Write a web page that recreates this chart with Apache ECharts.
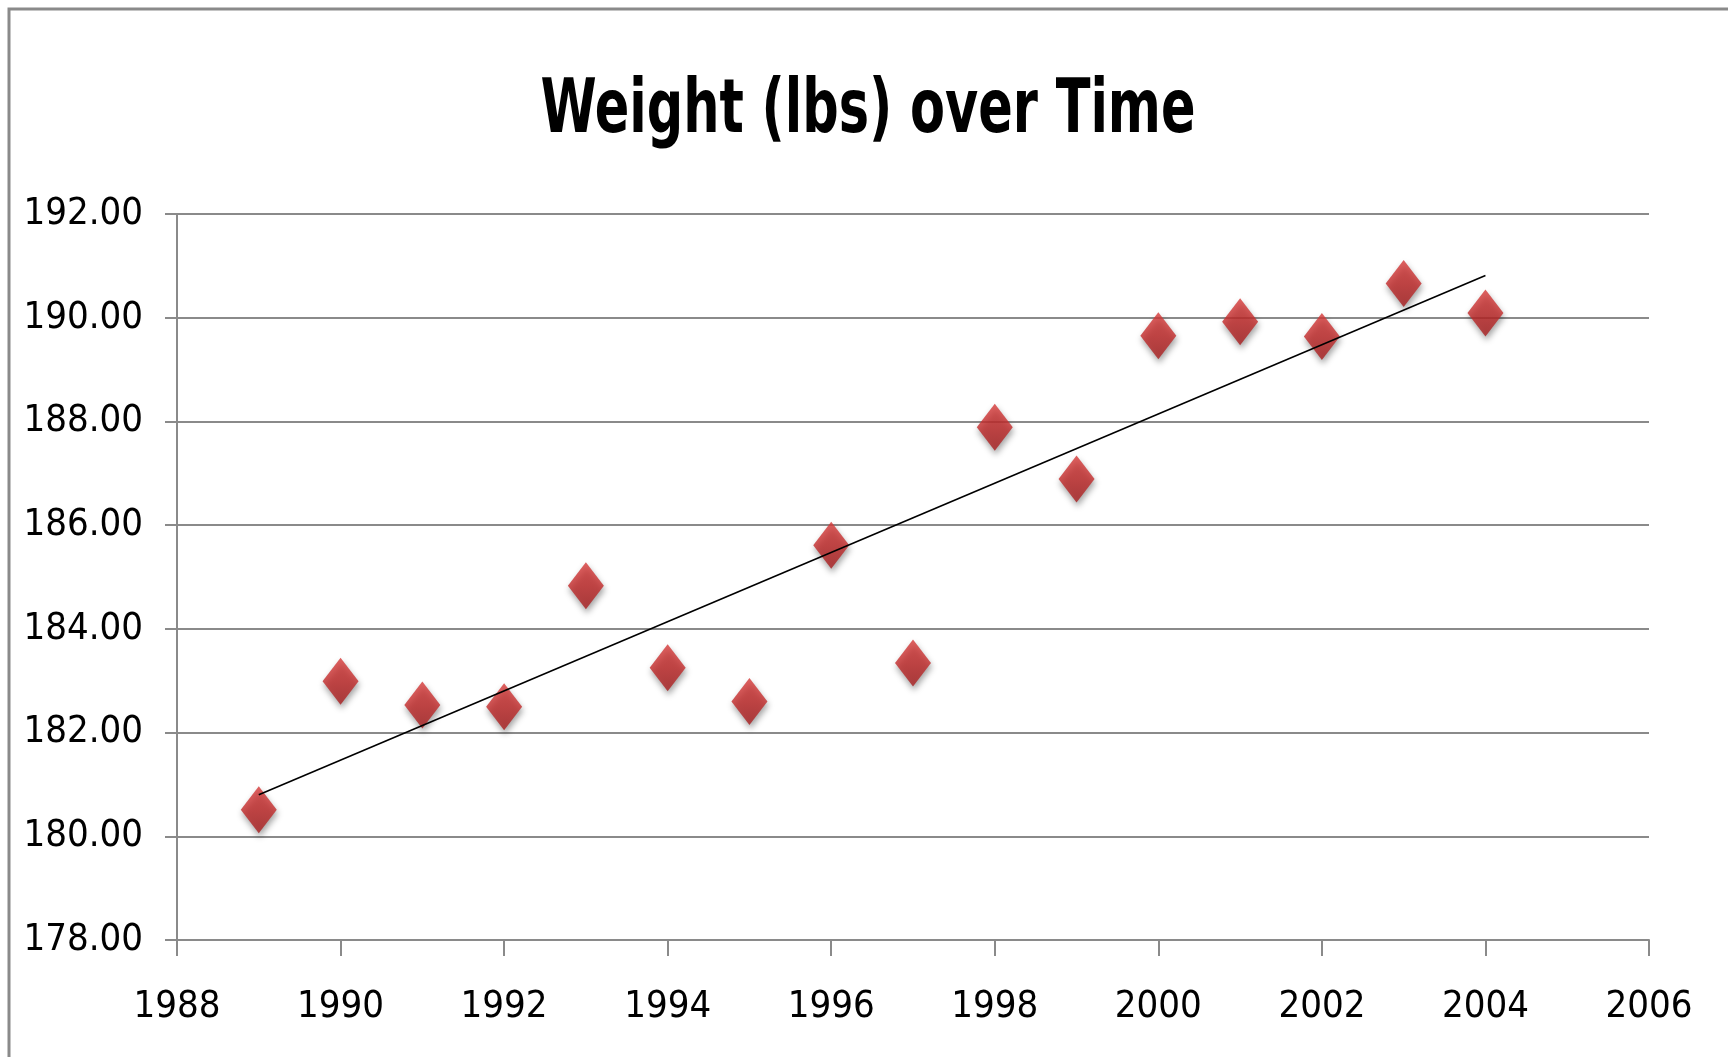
<!DOCTYPE html>
<html>
<head>
<meta charset="utf-8">
<script src="https://cdn.jsdelivr.net/npm/echarts@6/dist/echarts.min.js"></script>
<style>
html,body{margin:0;padding:0;background:#fff;}
#chart{width:1728px;height:1057px;}
</style>
</head>
<body>
<div id="chart"></div>
<script>
const titleText = 'Weight (lbs) over Time';
const years = [1989,1990,1991,1992,1993,1994,1995,1996,1997,1998,1999,2000,2001,2002,2003,2004];
const weights = [180.51,182.99,182.53,182.50,184.83,183.25,182.60,185.61,183.34,187.89,186.89,189.65,189.92,189.64,190.66,190.09];
const xTicks = [1988,1990,1992,1994,1996,1998,2000,2002,2004,2006];
const yTicks = [178,180,182,184,186,188,190,192];

// linear least-squares trendline (as in the original spreadsheet chart)
const n = years.length;
const mx = years.reduce((a,b)=>a+b,0)/n;
const my = weights.reduce((a,b)=>a+b,0)/n;
let sxy = 0, sxx = 0;
for (let i=0;i<n;i++){ sxy += (years[i]-mx)*(weights[i]-my); sxx += (years[i]-mx)*(years[i]-mx); }
const slope = sxy/sxx, icpt = my - slope*mx;
const trend = [[years[0], icpt+slope*years[0]], [years[n-1], icpt+slope*years[n-1]]];

const FONT = "'DejaVu Sans Condensed', 'Liberation Sans Narrow', 'Liberation Sans', sans-serif";
const chart = echarts.init(document.getElementById('chart'));
chart.setOption({
  animation: false,
  backgroundColor: '#fff',
  graphic: [
    {
      type: 'rect', shape: {x: 9, y: 9, width: 1760, height: 1100},
      style: {fill: 'none', stroke: '#8a8a8a', lineWidth: 3}, silent: true
    },
    {
      type: 'text', x: 868, y: 113, scaleX: 0.755, silent: true,
      style: {
        text: titleText, textAlign: 'center', textVerticalAlign: 'middle',
        fontFamily: FONT, fontWeight: 'bold', fontSize: 75, fill: '#000'
      }
    }
  ],
  grid: {left: 177, right: 79, top: 214, bottom: 1057-940},
  xAxis: {
    type: 'value', min: xTicks[0], max: xTicks[xTicks.length-1], interval: 2,
    axisLine: {show: true, lineStyle: {color: '#8a8a8a', width: 2}},
    axisTick: {show: true, length: 16, lineStyle: {color: '#8a8a8a', width: 2}},
    splitLine: {show: false},
    axisLabel: {fontFamily: FONT, fontSize: 38, color: '#000', margin: 48, formatter: v => String(v)}
  },
  yAxis: {
    type: 'value', min: yTicks[0], max: yTicks[yTicks.length-1], interval: 2,
    axisLine: {show: true, lineStyle: {color: '#8a8a8a', width: 2}},
    axisTick: {show: true, length: 12, lineStyle: {color: '#8a8a8a', width: 2}},
    splitLine: {show: true, lineStyle: {color: '#8a8a8a', width: 2}},
    axisLabel: {fontFamily: FONT, fontSize: 38, color: '#000', margin: 34, formatter: v => v.toFixed(2)}
  },
  series: [
    {
      type: 'scatter',
      data: years.map((y,i)=>[y, weights[i]]),
      symbol: 'diamond',
      symbolSize: [36, 47],
      z: 3,
      itemStyle: {
        color: new echarts.graphic.LinearGradient(0,0,0,1,[
          {offset:0, color:'#d63a39'},{offset:0.5, color:'#c42b2b'},{offset:1, color:'#a61e1f'}
        ]),
        shadowBlur: 6, shadowColor: 'rgba(0,0,0,0.45)', shadowOffsetY: 4, shadowOffsetX: 1
      }
    },
    {
      type: 'line',
      data: trend,
      symbol: 'none',
      z: 4,
      lineStyle: {color: '#000', width: 1.6}
    }
  ]
});
</script>
</body>
</html>
